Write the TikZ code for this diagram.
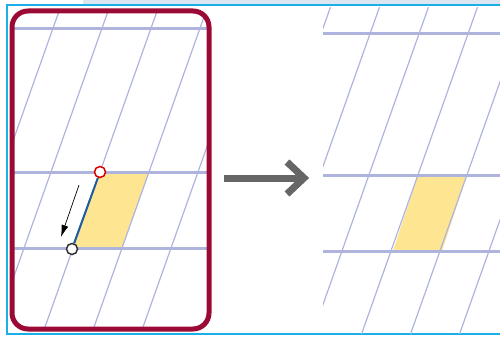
\documentclass[tikz,border=0pt]{standalone}
\usetikzlibrary{arrows.meta}
\definecolor{gridc}{HTML}{AEB4DE}
\definecolor{framec}{HTML}{9B0A35}
\definecolor{cyanc}{HTML}{1AAFE6}
\definecolor{yel}{HTML}{FDE592}
\definecolor{segc}{HTML}{1F5C9E}
\definecolor{arrc}{HTML}{666666}
\definecolor{bandc}{HTML}{DCE6F0}
\tikzset{
  hline/.style={gridc, line width=3pt},
  sline/.style={gridc, line width=1.2pt},
  dot/.style={circle, fill=white, line width=1.5pt, minimum size=11pt, inner sep=0pt},
}
\begin{document}
\begin{tikzpicture}[x=1pt,y=-1pt]
\useasboundingbox (0,0) rectangle (500,337);
% top band and outer cyan frame
\fill[bandc] (83,0) rectangle (500,4);
\draw[cyanc, line width=2pt] (502,5) -- (7,5) -- (7,334) -- (502,334);
% left panel
\begin{scope}
  \clip[rounded corners=16pt] (12,11) rectangle (209,329);
  \fill[yel] (100,172) -- (149,172) -- (122,248) -- (73,248) -- cycle;
  \foreach \k in {-3,...,2} {
    \draw[sline] ({161+49*\k},0) -- ({40.4+49*\k},340);
  }
  \foreach \yy in {29,172,248} {
    \draw[hline] (0,\yy) -- (220,\yy);
  }
\end{scope}
\draw[framec, line width=5pt, rounded corners=16pt] (12,11) rectangle (209,329);
\node[dot, draw=red!85!black] (top) at (100,172) {};
\node[dot, draw=black!80] (bot) at (72,249) {};
\draw[segc, line width=2pt] (top) -- (bot);
\coordinate (as) at (79,185);
\coordinate (ae) at (61,237);
\draw[line width=0.7pt, -{Latex[length=12pt,width=7pt]}] (as) -- (ae);
% middle arrow
\coordinate (ms) at (224,178);
\coordinate (me) at (302,178);
\draw[arrc, line width=7pt] (ms) -- (me);
\draw[arrc, line width=7pt, miter limit=10] (287,162) -- (304,178) -- (287,194);
% right panel
\begin{scope}
  \clip (323,8) rectangle (500,333);
  \fill[yel] (418,175) -- (467,175) -- (442,251) -- (393,251) -- cycle;
  \foreach \k in {-4,...,2} {
    \draw[sline] ({480+49*\k},0) -- ({359.4+49*\k},340);
  }
  \foreach \yy in {34,175,251} {
    \draw[hline] (323,\yy) -- (505,\yy);
  }
\end{scope}
\end{tikzpicture}
\end{document}
